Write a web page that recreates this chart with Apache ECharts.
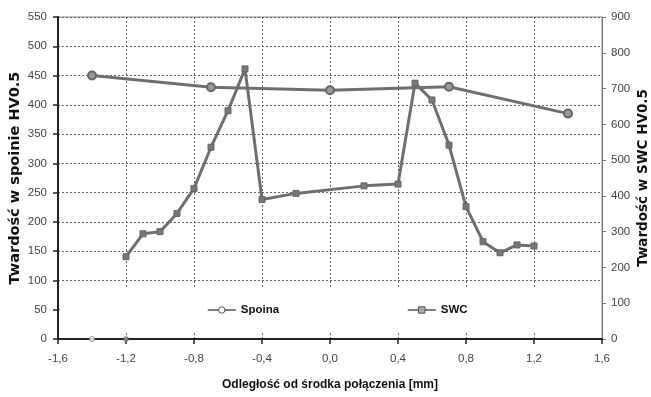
<!DOCTYPE html>
<html>
<head>
<meta charset="utf-8">
<script src="https://cdn.jsdelivr.net/npm/echarts@6/dist/echarts.min.js"></script>
<style>
  html, body { margin: 0; padding: 0; background: #fff; }
  #chart { width: 651px; height: 397px; }
</style>
</head>
<body>
<div id="chart"></div>
<script>
// Spoina (left axis) - circles
var spoinaX = [-1.4, -0.7, 0.0, 0.7, 1.4];
var spoinaY = [450, 430, 425, 431, 385];

// SWC (right axis) - squares
var swcX = [-1.2, -1.1, -1.0, -0.9, -0.8, -0.7, -0.6, -0.5, -0.4, -0.2, 0.2, 0.4, 0.5, 0.6, 0.7, 0.8, 0.9, 1.0, 1.1, 1.2];
var swcY = [230, 294, 300, 351, 421, 536, 638, 755, 390, 407, 428, 433, 715, 668, 542, 370, 272, 241, 263, 260];

// stray markers lying on the x axis
var strayCircle = [[-1.4, 0]];
var straySquare = [[-1.2, 0]];

var narrow = '"Liberation Sans Narrow", "Liberation Sans", Arial, sans-serif';
var lineGray = '#6f6f6f';

function pairs(xs, ys) {
  return xs.map(function (x, i) { return [x, ys[i]]; });
}

var option = {
  animation: false,
  backgroundColor: '#fff',
  grid: {
    left: 58, right: 49, top: 17, bottom: 58,
    outerBoundsMode: 'none',
    containLabel: false,
    show: true, borderColor: '#888', borderWidth: 1
  },
  graphic: [{
    type: 'rect',
    shape: { x: 61, y: 287, width: 539, height: 44 },
    style: { fill: '#fff' },
    z: 3
  }],
  legend: [{
    data: ['Spoina'],
    left: 202, top: 299,
    itemWidth: 28, itemHeight: 8, itemGap: 4,
    lineStyle: { width: 1.5, color: '#555' },
    itemStyle: { color: '#fff', borderColor: '#555', borderWidth: 1 },
    textStyle: { fontFamily: narrow, fontWeight: 'bold', fontSize: 11.5, color: '#111' },
    z: 5
  }, {
    data: ['SWC'],
    left: 402, top: 299,
    itemWidth: 28, itemHeight: 8,
    lineStyle: { width: 1.5, color: '#555' },
    itemStyle: { color: '#aaa', borderColor: '#555', borderWidth: 1 },
    textStyle: { fontFamily: narrow, fontWeight: 'bold', fontSize: 11.5, color: '#111' },
    z: 5
  }],
  xAxis: {
    type: 'value',
    min: -1.6, max: 1.6, interval: 0.4,
    name: 'Odległość od środka połączenia [mm]',
    nameLocation: 'middle',
    nameGap: 40,
    nameTextStyle: { fontFamily: narrow, fontWeight: 'bold', fontSize: 12, color: '#111' },
    axisLine: { onZero: false, lineStyle: { color: '#222', width: 2 } },
    axisTick: { show: true, length: 5, lineStyle: { color: '#222', width: 1.5 } },
    axisLabel: {
      fontFamily: narrow, fontSize: 11.5, color: '#444', margin: 14,
      formatter: function (v) {
        if (Math.abs(v) < 1e-9) v = 0;
        return v.toFixed(1).replace('.', ',');
      }
    },
    splitLine: { show: true, lineStyle: { color: '#666', type: [2, 2], width: 1 } }
  },
  yAxis: [{
    type: 'value',
    min: 0, max: 550, interval: 50,
    position: 'left',
    name: 'Twardość w spoinie HV0.5',
    nameLocation: 'middle',
    nameGap: 35,
    nameMoveOverlap: false,
    nameRotate: 90,
    nameTextStyle: { fontFamily: '"DejaVu Sans", sans-serif', fontWeight: 'bold', fontSize: 14.5, color: '#111' },
    axisLine: { show: true, onZero: false, lineStyle: { color: '#222', width: 2 } },
    axisTick: { show: true, length: 5, lineStyle: { color: '#222', width: 1.5 } },
    axisLabel: { fontFamily: narrow, fontSize: 11.5, color: '#444', margin: 11 },
    splitLine: { show: true, lineStyle: { color: '#666', type: [2, 2], width: 1 } }
  }, {
    type: 'value',
    min: 0, max: 900, interval: 100,
    position: 'right',
    name: 'Twardość w SWC HV0.5',
    nameLocation: 'middle',
    nameGap: 34,
    nameMoveOverlap: false,
    nameRotate: 90,
    nameTextStyle: { fontFamily: '"DejaVu Sans", sans-serif', fontWeight: 'bold', fontSize: 13.5, color: '#111' },
    axisLine: { show: true, onZero: false, lineStyle: { color: '#777', width: 1 } },
    axisTick: { show: true, length: 4, lineStyle: { color: '#777', width: 1 } },
    axisLabel: { fontFamily: narrow, fontSize: 11.5, color: '#444', margin: 9 },
    splitLine: { show: false }
  }],
  series: [{
    name: 'Spoina',
    type: 'line',
    yAxisIndex: 0,
    data: pairs(spoinaX, spoinaY),
    symbol: 'circle',
    symbolSize: 8,
    showAllSymbol: true,
    lineStyle: { color: lineGray, width: 3 },
    itemStyle: { color: '#999', borderColor: '#666', borderWidth: 2 },
    z: 2
  }, {
    name: 'SWC',
    type: 'line',
    yAxisIndex: 1,
    data: pairs(swcX, swcY),
    symbol: 'rect',
    symbolSize: 6,
    showAllSymbol: true,
    lineStyle: { color: lineGray, width: 3 },
    itemStyle: { color: '#777', borderColor: '#666', borderWidth: 1 },
    z: 2
  }, {
    name: 'strayCircle',
    type: 'scatter',
    yAxisIndex: 0,
    data: strayCircle,
    symbol: 'circle',
    symbolSize: 5,
    itemStyle: { color: '#fff', borderColor: '#777', borderWidth: 1 },
    z: 6
  }, {
    name: 'straySquare',
    type: 'scatter',
    yAxisIndex: 0,
    data: straySquare,
    symbol: 'rect',
    symbolSize: 4,
    itemStyle: { color: '#999', borderColor: '#777', borderWidth: 1 },
    z: 6
  }]
};

var chart = echarts.init(document.getElementById('chart'));
chart.setOption(option);
</script>
</body>
</html>
